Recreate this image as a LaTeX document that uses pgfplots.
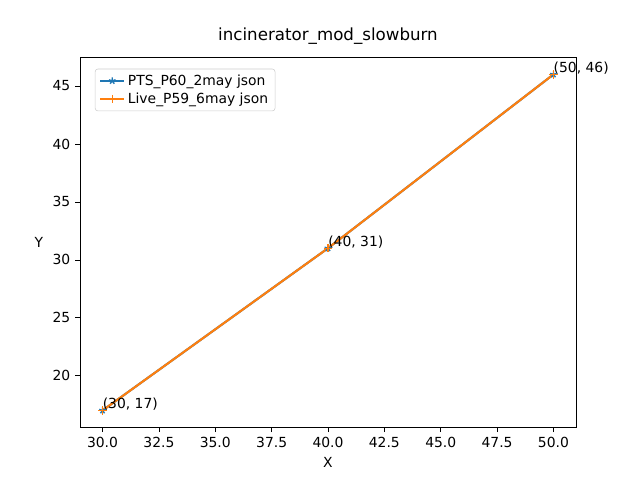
\documentclass[border=0pt]{standalone}
\usepackage{pgfplots}
\pgfplotsset{compat=1.18}
\usepackage{fontspec}
\setmainfont{DejaVu Sans}
\definecolor{cA}{HTML}{1F77B4}
\definecolor{cB}{HTML}{FF7F0E}
\begin{document}
\begin{tikzpicture}[font=\fontsize{10}{12}\selectfont]
\path[use as bounding box] (0,0) rectangle (460.8pt,345.6pt);
\begin{axis}[at={(57.6pt,38.0pt)}, anchor=south west, scale only axis,
 width=357.12pt, height=266.1pt, clip=false,
 xmin=29, xmax=51, ymin=15.55, ymax=47.45,
 xtick={30,32.5,...,50}, ytick={20,25,...,45},
 xticklabel style={/pgf/number format/.cd,fixed,fixed zerofill,precision=1},
 /pgf/number format/assume math mode=true,
 tick align=outside, tick style={black, thin}, major tick length=3.5pt,
 xtick pos=bottom, ytick pos=left,
 title={incinerator\_mod\_slowburn}, title style={font=\fontsize{12}{14}\selectfont},
 xlabel={X},
 ylabel={Y}, ylabel style={rotate=-90},
 legend pos=north west,
 legend style={font=\fontsize{10}{12}\selectfont, draw=black!20, rounded corners=2pt, cells={anchor=west}},
 legend cell align=left]
\addplot[color=cA, line width=1.5pt, mark=star, mark size=2.5pt, mark options={draw=cA, line width=1pt}] coordinates {(30,17)(40,31)(50,46)};
\addlegendentry{PTS\_P60\_2may json}
\addplot[color=cB, line width=1.5pt, mark=+, mark size=3pt, mark options={draw=cB, line width=1pt}] coordinates {(30,17)(40,31)(50,46)};
\addlegendentry{Live\_P59\_6may json}
\node[anchor=south west, inner sep=0pt] at (axis cs:30,17) {(30, 17)};
\node[anchor=south west, inner sep=0pt] at (axis cs:40,31) {(40, 31)};
\node[anchor=south west, inner sep=0pt] at (axis cs:50,46) {(50, 46)};
\end{axis}
\end{tikzpicture}
\end{document}
